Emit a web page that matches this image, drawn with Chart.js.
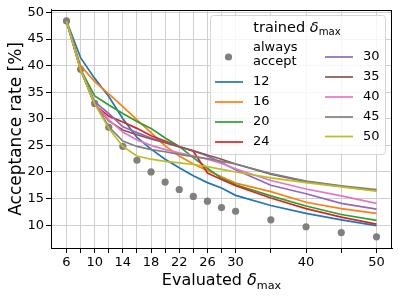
<!DOCTYPE html>
<html>
<head>
<meta charset="utf-8">
<script src="https://cdn.jsdelivr.net/npm/chart.js@4.4.0/dist/chart.umd.min.js"></script>
<style>
  html, body { margin: 0; padding: 0; background: #fff; }
  #wrap { width: 399px; height: 297px; }
</style>
</head>
<body>
<div id="wrap"><canvas id="chart" width="399" height="297"></canvas></div>
<script>
// evaluated delta_max values (x)
const xVals = [6, 8, 10, 12, 14, 16, 18, 20, 22, 24, 26, 28, 30, 35, 40, 45, 50];
const xLabeled = [6, 10, 14, 18, 22, 26, 30, 40, 50];
const yTicks = [10, 15, 20, 25, 30, 35, 40, 45, 50];

// acceptance rate [%]
const alwaysAccept = [48.4, 39.3, 32.9, 28.4, 24.8, 22.2, 20.0, 18.1, 16.7, 15.4, 14.5, 13.3, 12.6, 11.0, 9.7, 8.6, 7.8];
const trained12 = [48.4, 41.5, 37.6, 34.2, 30.0, 26.5, 24.3, 22.4, 20.8, 19.3, 18.0, 17.0, 15.6, 13.7, 12.2, 11.0, 9.9];
const trained16 = [48.4, 40.0, 37.0, 34.7, 32.3, 29.8, 27.4, 24.9, 23.0, 21.5, 20.3, 19.1, 17.9, 16.3, 14.3, 13.1, 12.2];
const trained20 = [48.4, 39.3, 34.3, 32.6, 31.0, 29.5, 28.2, 26.4, 24.8, 22.7, 20.7, 18.8, 17.6, 15.5, 13.6, 12.0, 10.9];
const trained24 = [48.4, 39.3, 32.6, 30.5, 29.4, 28.2, 26.8, 25.8, 24.8, 23.9, 19.8, 18.6, 17.4, 15.1, 13.1, 11.5, 10.2];
const trained30 = [48.4, 39.3, 33.2, 31.0, 28.5, 27.4, 26.4, 25.6, 24.8, 24.0, 23.0, 21.8, 20.4, 17.5, 15.9, 14.1, 13.0];
const trained35 = [48.4, 39.3, 32.8, 29.6, 27.9, 27.0, 26.2, 25.5, 24.7, 24.0, 23.2, 22.4, 21.5, 19.6, 18.2, 17.3, 16.5];
const trained40 = [48.4, 39.3, 32.8, 29.8, 27.5, 26.0, 25.0, 24.2, 23.6, 23.0, 22.4, 21.6, 20.6, 18.4, 16.8, 15.5, 14.1];
const trained45 = [48.4, 39.3, 33.0, 28.5, 25.8, 24.8, 24.2, 23.8, 23.3, 22.9, 22.5, 22.0, 21.5, 19.7, 18.3, 17.4, 16.7];
const trained50 = [48.4, 39.2, 32.8, 28.2, 24.8, 23.0, 22.4, 22.0, 21.7, 21.4, 21.0, 20.5, 20.0, 18.9, 18.0, 17.2, 16.4];

const trainedLabels = ['12', '16', '20', '24', '30', '35', '40', '45', '50'];
const trainedSeries = [trained12, trained16, trained20, trained24, trained30, trained35, trained40, trained45, trained50];
const trainedColors = ['#1f77b4', '#ff7f0e', '#2ca02c', '#d62728', '#9467bd', '#8c564b', '#e377c2', '#7f7f7f', '#bcbd22'];
const dotColor = '#808080';

const FONT = "'DejaVu Sans', sans-serif";

function toPoints(values) {
    return xVals.map(function (x, i) {
        return {x: x, y: values[i]};
    });
}

let datasets = [];
trainedSeries.forEach(function (values, i) {
    datasets.push({
        label: trainedLabels[i],
        data: toPoints(values),
        borderColor: trainedColors[i],
        backgroundColor: trainedColors[i],
        borderWidth: 1.7,
        pointRadius: 0,
        tension: 0,
        order: trainedSeries.length - i
    });
});
datasets.push({
    label: 'always accept',
    data: toPoints(alwaysAccept),
    showLine: false,
    pointRadius: 3.6,
    pointBackgroundColor: dotColor,
    pointBorderWidth: 0,
    order: 20
});

// text with an italic symbol and a subscript, centred on cx
function drawSubText(ctx, pre, sym, sub, cx, baseline, size) {
    let subSize = size * 0.7;
    ctx.font = size + 'px ' + FONT;
    let w1 = ctx.measureText(pre).width;
    ctx.font = 'italic ' + size + 'px ' + FONT;
    let w2 = ctx.measureText(sym).width;
    ctx.font = subSize + 'px ' + FONT;
    let w3 = ctx.measureText(sub).width;
    let x = cx - (w1 + w2 + w3) / 2;
    ctx.fillStyle = '#000';
    ctx.textAlign = 'left';
    ctx.textBaseline = 'alphabetic';
    ctx.font = size + 'px ' + FONT;
    ctx.fillText(pre, x, baseline);
    ctx.font = 'italic ' + size + 'px ' + FONT;
    ctx.fillText(sym, x + w1, baseline);
    ctx.font = subSize + 'px ' + FONT;
    ctx.fillText(sub, x + w1 + w2, baseline + size * 0.22);
}

function roundRect(ctx, x, y, w, h, r) {
    ctx.beginPath();
    ctx.moveTo(x + r, y);
    ctx.lineTo(x + w - r, y);
    ctx.quadraticCurveTo(x + w, y, x + w, y + r);
    ctx.lineTo(x + w, y + h - r);
    ctx.quadraticCurveTo(x + w, y + h, x + w - r, y + h);
    ctx.lineTo(x + r, y + h);
    ctx.quadraticCurveTo(x, y + h, x, y + h - r);
    ctx.lineTo(x, y + r);
    ctx.quadraticCurveTo(x, y, x + r, y);
    ctx.closePath();
}

const decorations = {
    id: 'decorations',
    afterDraw: function (chart) {
        let ctx = chart.ctx;
        let area = chart.chartArea;
        ctx.save();

        // full frame
        ctx.strokeStyle = '#000';
        ctx.lineWidth = 1;
        ctx.strokeRect(Math.round(area.left) + 0.5, Math.round(area.top) + 0.5,
            Math.round(area.right - area.left) - 1, Math.round(area.bottom - area.top));

        // x axis title
        drawSubText(ctx, 'Evaluated ', '\u03b4', 'max', (area.left + area.right) / 2, 285, 16);

        // legend box
        let bx = 210, by = 15, bw = 175, bh = 139;
        roundRect(ctx, bx + 0.5, by + 0.5, bw, bh, 3);
        ctx.fillStyle = 'rgba(255,255,255,0.8)';
        ctx.fill();
        ctx.strokeStyle = '#d6d6d6';
        ctx.lineWidth = 1;
        ctx.stroke();

        drawSubText(ctx, 'trained ', '\u03b4', 'max', 297, 32, 14.5);

        ctx.font = '13px ' + FONT;
        ctx.textBaseline = 'middle';
        ctx.textAlign = 'left';

        // always accept entry
        ctx.fillStyle = dotColor;
        ctx.beginPath();
        ctx.arc(228.5, 57, 3.6, 0, Math.PI * 2);
        ctx.fill();
        ctx.fillStyle = '#000';
        ctx.fillText('always', 253, 48);
        ctx.fillText('accept', 253, 62);

        let col1 = [82, 102, 122, 142];
        let col2 = [57, 77, 97, 117, 136.5];
        trainedLabels.forEach(function (label, i) {
            let lx, tx, ly;
            if (i < 4) {
                lx = 215; tx = 253; ly = col1[i];
            } else {
                lx = 325; tx = 363; ly = col2[i - 4];
            }
            ctx.strokeStyle = trainedColors[i];
            ctx.lineWidth = 1.7;
            ctx.beginPath();
            ctx.moveTo(lx, ly);
            ctx.lineTo(lx + 28, ly);
            ctx.stroke();
            ctx.fillStyle = '#000';
            ctx.fillText(label, tx, ly);
        });

        ctx.restore();
    }
};

let myChart = new Chart(document.getElementById('chart'), {
    type: 'line',
    data: {datasets: datasets},
    plugins: [decorations],
    options: {
        responsive: false,
        animation: false,
        devicePixelRatio: 1,
        layout: {padding: {left: 0, right: 7, top: 9, bottom: 0}},
        plugins: {
            legend: {display: false},
            tooltip: {enabled: false}
        },
        scales: {
            x: {
                type: 'linear',
                min: 3.8,
                max: 52.2,
                afterBuildTicks: function (scale) {
                    scale.ticks = xVals.map(function (v) { return {value: v}; });
                },
                afterFit: function (scale) {
                    scale.height = 49;
                },
                grid: {
                    color: '#cfcfcf',
                    lineWidth: 1,
                    tickLength: 5,
                    tickColor: '#000'
                },
                border: {display: true, color: '#000', width: 1},
                ticks: {
                    autoSkip: false,
                    maxRotation: 0,
                    padding: 2,
                    color: '#000',
                    font: {family: FONT, size: 13},
                    callback: function (value) {
                        return xLabeled.indexOf(value) >= 0 ? String(value) : '';
                    }
                }
            },
            y: {
                type: 'linear',
                min: 5.7,
                max: 50.5,
                afterBuildTicks: function (scale) {
                    scale.ticks = yTicks.map(function (v) { return {value: v}; });
                },
                afterFit: function (scale) {
                    scale.width = 51;
                },
                grid: {
                    color: '#cfcfcf',
                    lineWidth: 1,
                    tickLength: 5,
                    tickColor: '#000'
                },
                border: {display: true, color: '#000', width: 1},
                title: {
                    display: true,
                    text: 'Acceptance rate [%]',
                    color: '#000',
                    font: {family: FONT, size: 17},
                    padding: {top: 6, bottom: 0}
                },
                ticks: {
                    padding: 2,
                    color: '#000',
                    font: {family: FONT, size: 13}
                }
            }
        }
    }
});
</script>
</body>
</html>
